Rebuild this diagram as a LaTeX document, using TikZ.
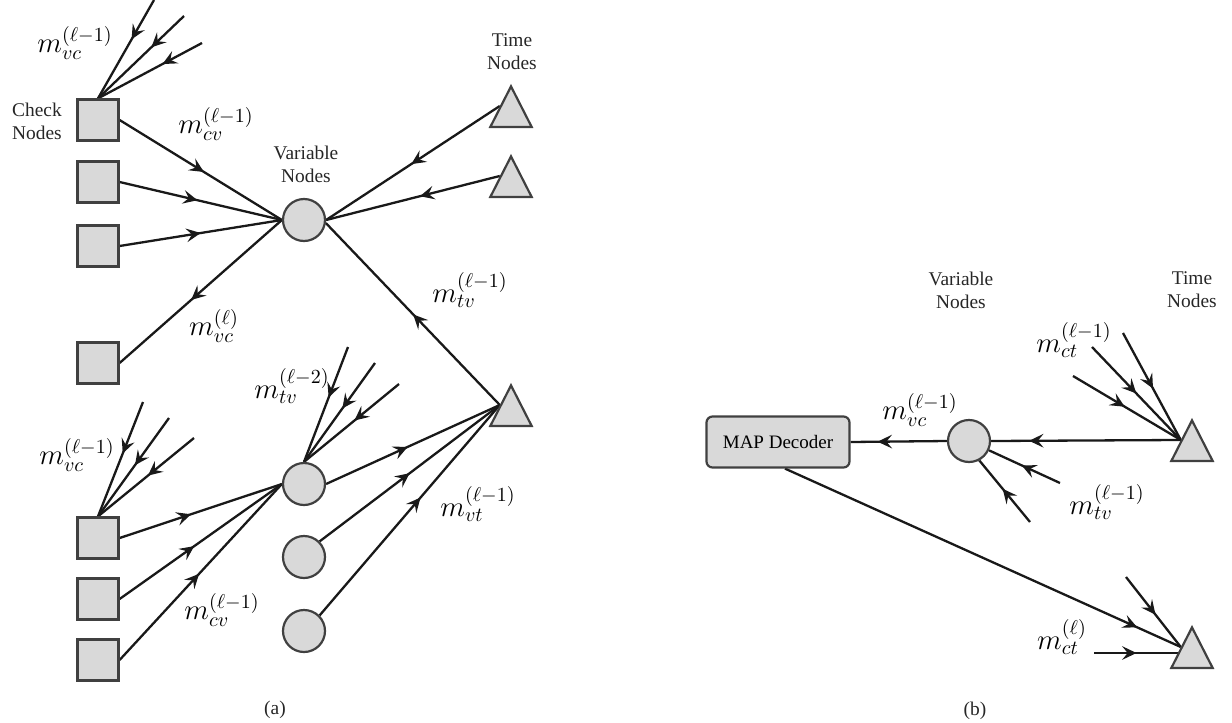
\documentclass[tikz,border=0pt]{standalone}
\usepackage{fontspec}
\setmainfont{Liberation Serif}
\usetikzlibrary{arrows.meta,decorations.markings,shapes.geometric}
\pgfdeclarelayer{background}
\pgfsetlayers{background,main}
\begin{document}
\begin{tikzpicture}[x=0.5pt,y=-0.5pt,
  ln/.style={draw=black!90, line width=1.15pt},
  am/.style={postaction={decorate}, decoration={markings, mark=at position #1 with {\arrow{Stealth[length=7.2pt,width=6.8pt,inset=2.8pt]}}}},
  cnode/.style={rectangle, draw=black!75, fill=gray!30, line width=1.1pt, minimum size=20.5pt, inner sep=0pt},
  vnode/.style={circle, draw=black!75, fill=gray!30, line width=1.1pt, minimum size=21pt, inner sep=0pt},
  tnode/.style={isosceles triangle, isosceles triangle apex angle=54, shape border rotate=90, draw=black!75, fill=gray!30, line width=1.1pt, minimum width=20.25pt, minimum height=20.25pt, inner sep=0pt, anchor=lower side},
  mapbox/.style={rectangle, rounded corners=3pt, draw=black!75, fill=gray!30, line width=1.1pt, minimum width=71.5pt, minimum height=25.5pt, inner sep=0pt, font=\fontsize{9.5}{11}\selectfont},
  txt/.style={font=\fontsize{9.7}{11.5}\selectfont, align=center, text=black!85, inner sep=0pt},
  lab/.style={font=\fontsize{14}{16}\selectfont, inner sep=0pt},
]
\useasboundingbox (0,0) rectangle (1232,723);

% ---------- (a) ----------
\node[cnode] (ch1) at (98,120) {};
\node[cnode] (ch2) at (98,182) {};
\node[cnode] (ch3) at (98,246) {};
\node[cnode] (ch4) at (98,363) {};
\node[cnode] (cb1) at (98,538) {};
\node[cnode] (cb2) at (98,599) {};
\node[cnode] (cb3) at (98,660) {};
\node[vnode] (v1) at (304,220) {};
\node[vnode] (vb1) at (304,484) {};
\node[vnode] (vb2) at (304,557) {};
\node[vnode] (vb3) at (304,631) {};
\node[tnode] (t1) at (511,128) {};
\node[tnode] (t2) at (511,198) {};
\node[tnode] (t3) at (511,427) {};

\node[txt] (tcheck) at (37,121) {Check\\Nodes};
\node[txt] (tvar) at (306,164) {Variable\\Nodes};
\node[txt] (ttime) at (512,52) {Time\\Nodes};
\node[txt] (capa) at (275,710) {(a)};

\node[lab] (l1) at (75,43) {$m_{vc}^{(\ell-1)}$};
\node[lab] (l2) at (216,124) {$m_{cv}^{(\ell-1)}$};
\node[lab] (l3) at (214,326) {$m_{vc}^{(\ell)}$};
\node[lab] (l4) at (470,290) {$m_{tv}^{(\ell-1)}$};
\node[lab] (l5) at (77,455) {$m_{vc}^{(\ell-1)}$};
\node[lab] (l6) at (292,386) {$m_{tv}^{(\ell-2)}$};
\node[lab] (l7) at (222,610) {$m_{cv}^{(\ell-1)}$};
\node[lab] (l8) at (478,504) {$m_{vt}^{(\ell-1)}$};

\coordinate (p1) at (154,0);
\coordinate (p2) at (184,16);
\coordinate (p3) at (202,43);
\coordinate (q1) at (143,402);
\coordinate (q2) at (169,418);
\coordinate (q3) at (194,438);
\coordinate (r1) at (348,347);
\coordinate (r2) at (375,363);
\coordinate (r3) at (399,384);

% ---------- (b) ----------
\node[vnode] (vr) at (969,441) {};
\node[mapbox] (map) at (778,442) {MAP Decoder};
\node[tnode] (tr1) at (1192,462) {};
\node[tnode] (tr2) at (1192,669) {};

\node[txt] (tvar2) at (961,290) {Variable\\Nodes};
\node[txt] (ttime2) at (1192,290) {Time\\Nodes};
\node[txt] (capb) at (975,711) {(b)};

\node[lab] (k1) at (920,410) {$m_{vc}^{(\ell-1)}$};
\node[lab] (k2) at (1074,340) {$m_{ct}^{(\ell-1)}$};
\node[lab] (k3) at (1107,502) {$m_{tv}^{(\ell-1)}$};
\node[lab] (k4) at (1062,637) {$m_{ct}^{(\ell)}$};

\coordinate (s1) at (1123,333);
\coordinate (s2) at (1092,347);
\coordinate (s3) at (1073,376);
\coordinate (u1) at (1060,483);
\coordinate (u2) at (1030,522);
\coordinate (w1) at (1126,577);
\coordinate (w2) at (1094,653);

\begin{pgfonlayer}{background}
% (a)
\draw[ln,am=0.4] (p1) -- (ch1.north);
\draw[ln,am=0.38] (p2) -- (ch1.north);
\draw[ln,am=0.38] (p3) -- (ch1.north);
\draw[ln,am=0.52] (ch1.east) -- (v1.west);
\draw[ln,am=0.48] (ch2.east) -- (v1.west);
\draw[ln,am=0.5] (ch3.east) -- (v1.west);
\draw[ln,am=0.51] (t1.left side) -- (v1.east);
\draw[ln,am=0.46] (t2.left side) -- (v1.east);
\draw[ln,am=0.5] (t3.left side) -- (v1.-8);
\draw[ln,am=0.56] (v1.west) -- (ch4.east);
\draw[ln,am=0.45] (q1) -- (cb1.north);
\draw[ln,am=0.48] (q2) -- (cb1.north);
\draw[ln,am=0.48] (q3) -- (cb1.north);
\draw[ln,am=0.44] (cb1.east) -- (vb1.west);
\draw[ln,am=0.46] (cb2.east) -- (vb1.west);
\draw[ln,am=0.49] (cb3.east) -- (vb1.west);
\draw[ln,am=0.44] (r1) -- (vb1.north);
\draw[ln,am=0.46] (r2) -- (vb1.north);
\draw[ln,am=0.47] (r3) -- (vb1.north);
\draw[ln,am=0.47] (vb1.east) -- (t3.left side);
\draw[ln,am=0.5] (vb2.north east) -- (t3.left side);
\draw[ln,am=0.56] (vb3.north east) -- (t3.left side);
% (b)
\draw[ln,am=0.8] (tr1.left side) -- (vr.east);
\draw[ln,am=0.52] (s1) -- (tr1.left side);
\draw[ln,am=0.5] (s2) -- (tr1.left side);
\draw[ln,am=0.48] (s3) -- (tr1.left side);
\draw[ln,am=0.54] (u1) -- (vr.-25);
\draw[ln,am=0.54] (u2) -- (vr.-62);
\draw[ln,am=0.72] (vr.west) -- (map.east);
\draw[ln,am=0.89] ([xshift=3.5pt]map.south) -- (tr2.left side);
\draw[ln,am=0.54] (w1) -- (tr2.left side);
\draw[ln,am=0.49] (w2) -- (w2 -| tr2.left side);
\end{pgfonlayer}
\end{tikzpicture}
\end{document}
